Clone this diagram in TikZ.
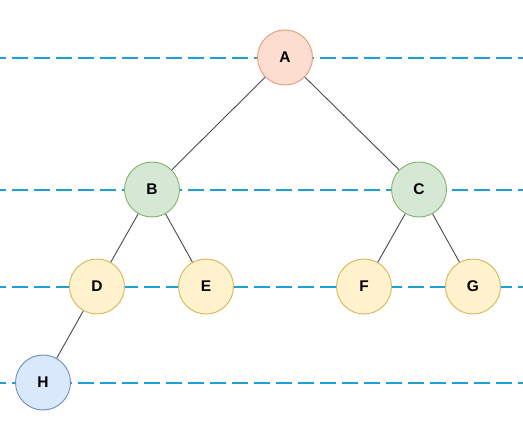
\documentclass[tikz,border=0pt]{standalone}
\usepackage{fontspec}
\setmainfont{Liberation Sans}
\begin{document}
\begin{tikzpicture}[x=1pt,y=-1pt,
  guide/.style={draw=guideblue, line width=2pt, dash pattern=on 16pt off 6pt, dash phase=10pt},
  vert/.style={circle, minimum size=55pt, inner sep=0pt, line width=0.9pt, font=\fontsize{15.5}{17}\selectfont\bfseries},
  redv/.style={vert, draw=redS, fill=redF},
  greenv/.style={vert, draw=greenS, fill=greenF},
  yellowv/.style={vert, draw=yellowS, fill=yellowF},
  bluev/.style={vert, draw=blueS, fill=blueF},
  edge/.style={draw=edgeC, line width=0.9pt}]
\definecolor{guideblue}{HTML}{1BA1D8}
\definecolor{redS}{HTML}{E59A78}
\definecolor{redF}{HTML}{FCDDD0}
\definecolor{greenS}{HTML}{82B366}
\definecolor{greenF}{HTML}{D5E8D4}
\definecolor{yellowS}{HTML}{D6B656}
\definecolor{yellowF}{HTML}{FFF2CC}
\definecolor{blueS}{HTML}{6C8EBF}
\definecolor{blueF}{HTML}{DAE8FC}
\definecolor{edgeC}{HTML}{454A55}
\useasboundingbox (0,0) rectangle (523,439);
% guide lines
\coordinate (l1a) at (0,58); \coordinate (l1b) at (523,58);
\coordinate (l2a) at (0,189.5); \coordinate (l2b) at (523,189.5);
\coordinate (l3a) at (0,286.5); \coordinate (l3b) at (523,286.5);
\coordinate (l4a) at (0,382.5); \coordinate (l4b) at (523,382.5);
\draw[guide] (l1a) -- (l1b);
\draw[guide] (l2a) -- (l2b);
\draw[guide] (l3a) -- (l3b);
\draw[guide] (l4a) -- (l4b);
% nodes
\node[redv] (A) at (285,57.5) {A};
\node[greenv] (B) at (152,189.5) {B};
\node[greenv] (C) at (419,189.5) {C};
\node[yellowv] (D) at (97,286.5) {D};
\node[yellowv] (E) at (206,286.5) {E};
\node[yellowv] (F) at (364,286.5) {F};
\node[yellowv] (G) at (473,286.5) {G};
\node[bluev] (H) at (43,382.5) {H};
% edges
\draw[edge] (A) -- (B);
\draw[edge] (A) -- (C);
\draw[edge] (B) -- (D);
\draw[edge] (B) -- (E);
\draw[edge] (C) -- (F);
\draw[edge] (C) -- (G);
\draw[edge] (D) -- (H);
\end{tikzpicture}
\end{document}
